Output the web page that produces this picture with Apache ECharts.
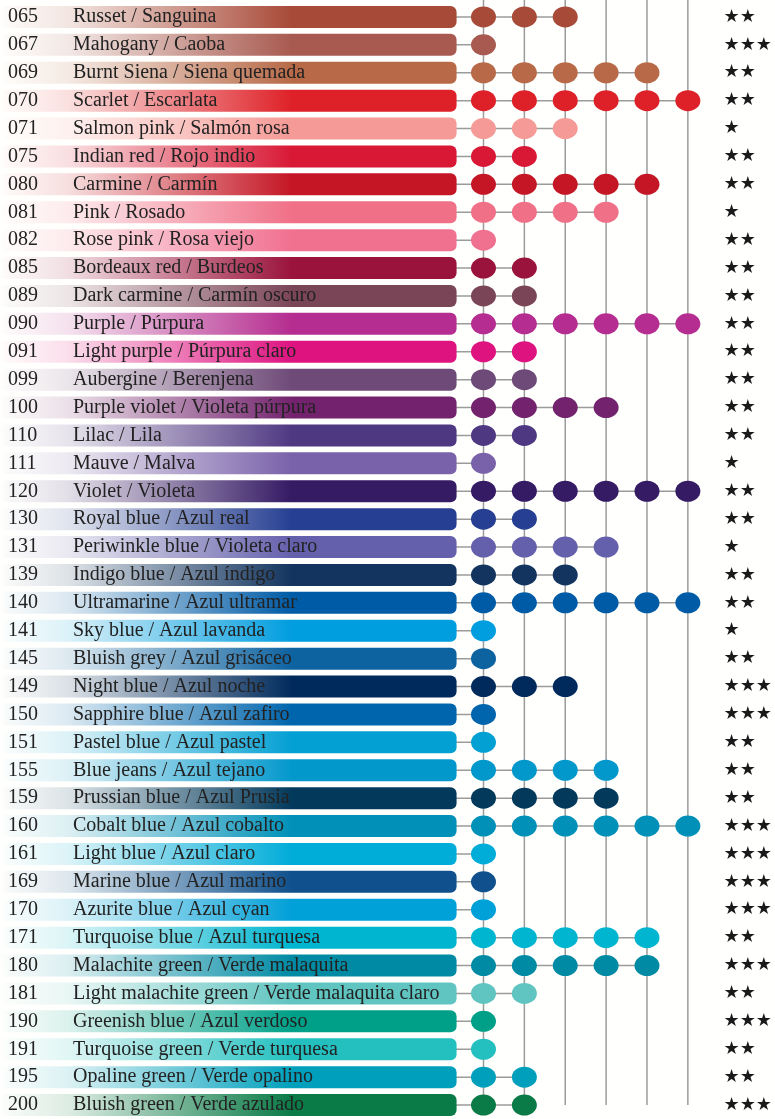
<!DOCTYPE html>
<html>
<head>
<meta charset="utf-8">
<script src="https://cdn.jsdelivr.net/npm/echarts@6/dist/echarts.min.js"></script>
<style>
html,body{margin:0;padding:0;background:#fffffd;}
#chart{width:775px;height:1119px;}
</style>
</head>
<body>
<div id="chart"></div>
<script>
const codes = ['065','067','069','070','071','075','080','081','082','085','089','090','091','099','100','110','111','120','130','131','139','140','141','145','149','150','151','155','159','160','161','169','170','171','180','181','190','191','195','200'];
const names = ['Russet / Sanguina','Mahogany / Caoba','Burnt Siena / Siena quemada','Scarlet / Escarlata','Salmon pink / Salmón rosa','Indian red / Rojo indio','Carmine / Carmín','Pink / Rosado','Rose pink / Rosa viejo','Bordeaux red / Burdeos','Dark carmine / Carmín oscuro','Purple / Púrpura','Light purple / Púrpura claro','Aubergine / Berenjena','Purple violet / Violeta púrpura','Lilac / Lila','Mauve / Malva','Violet / Violeta','Royal blue / Azul real','Periwinkle blue / Violeta claro','Indigo blue / Azul índigo','Ultramarine / Azul ultramar','Sky blue / Azul lavanda','Bluish grey / Azul grisáceo','Night blue / Azul noche','Sapphire blue / Azul zafiro','Pastel blue / Azul pastel','Blue jeans / Azul tejano','Prussian blue / Azul Prusia','Cobalt blue / Azul cobalto','Light blue / Azul claro','Marine blue / Azul marino','Azurite blue / Azul cyan','Turquoise blue / Azul turquesa','Malachite green / Verde malaquita','Light malachite green / Verde malaquita claro','Greenish blue / Azul verdoso','Turquoise green / Verde turquesa','Opaline green / Verde opalino','Bluish green / Verde azulado'];
const colors = ['#a84a38','#a85a50','#b86a48','#de2128','#f59a96','#d81835','#c41624','#f07088','#f07090','#9a133d','#7b4558','#b52d90','#de1380','#6e4a78','#73236d','#4f3882','#7a62aa','#351a64','#263f92','#6560ac','#12345f','#005ba6','#009ddf','#0d62a0','#002a5c','#0065ad','#03a0d3','#0398cc','#033a5c','#0090b8','#00acd8','#10508c','#00a0d8','#00b5cf','#008aa4','#60c4c0','#00a088','#24c0c0','#00a0bc','#0a7a46'];
const dotCounts = [3,1,5,6,3,2,5,4,1,2,2,6,2,2,4,2,1,6,2,4,3,6,1,1,3,1,1,4,4,6,1,1,1,5,5,2,1,1,2,2];
const starCounts = [2,3,2,2,1,2,2,1,2,2,2,2,2,2,2,2,1,2,2,1,2,2,1,2,3,3,2,2,2,3,3,3,3,2,3,2,3,2,2,3];
const columns = [1,2,3,4,5,6];

function rgba(hex, a){
  const n = parseInt(hex.slice(1),16);
  return 'rgba(' + ((n>>16)&255) + ',' + ((n>>8)&255) + ',' + (n&255) + ',' + a + ')';
}

const FONT = 'Liberation Serif';
const BAR_END = 458;
const LINE_COLOR = '#9b9b9b';

const barData = codes.map((c, i) => ({
  value: BAR_END,
  itemStyle: {
    color: new echarts.graphic.LinearGradient(0, 0, 1, 0, [
      {offset: 0, color: rgba(colors[i], 0)},
      {offset: 0.02, color: rgba(colors[i], 0.03)},
      {offset: 0.15, color: rgba(colors[i], 0.14)},
      {offset: 0.64, color: rgba(colors[i], 1)},
      {offset: 1, color: rgba(colors[i], 1)}
    ])
  },
  label: {formatter: names[i]}
}));

const dotData = [];
codes.forEach((c, i) => {
  for (let k = 1; k <= dotCounts[i]; k++) {
    dotData.push({value: [k, i], itemStyle: {color: colors[i], opacity: 1}});
  }
});

const last = codes.length - 1;

const option = {
  backgroundColor: '#fffffd',
  animation: false,
  grid: {left: 0, width: 775, top: 3, height: 1118},
  xAxis: [
    {type: 'value', min: 0, max: 775, show: false},
    {type: 'value', min: -444/41, max: 331/41, show: false}
  ],
  yAxis: [
    {type: 'category', data: codes, inverse: true, position: 'left', z: 10,
     axisLine: {show: false}, axisTick: {show: false}, splitLine: {show: false},
     axisLabel: {inside: true, margin: 8, align: 'left', fontFamily: FONT, fontSize: 20, color: '#222'}},
    {type: 'category', data: codes, inverse: true, position: 'right', z: 10,
     axisLine: {show: false}, axisTick: {show: false}, splitLine: {show: false},
     axisLabel: {inside: true, margin: 49, align: 'left', fontFamily: 'DejaVu Sans', fontSize: 18, color: '#1a1a1a',
       formatter: (v, i) => '★'.repeat(starCounts[i])}}
  ],
  series: [
    {
      type: 'custom', xAxisIndex: 1, yAxisIndex: 0, z: 1, silent: true,
      data: columns.map(k => [k, last]),
      renderItem: (params, api) => {
        const p = api.coord([api.value(0), api.value(1)]);
        return {type: 'line', shape: {x1: p[0], y1: 0, x2: p[0], y2: p[1]},
                style: {stroke: LINE_COLOR, lineWidth: 1.5}};
      }
    },
    {
      type: 'custom', xAxisIndex: 1, yAxisIndex: 0, z: 1, silent: true,
      data: dotCounts.map((n, i) => [n, i]),
      renderItem: (params, api) => {
        const a = api.coord([0, api.value(1)]);
        const b = api.coord([api.value(0), api.value(1)]);
        return {type: 'line', shape: {x1: a[0], y1: a[1], x2: b[0], y2: b[1]},
                style: {stroke: LINE_COLOR, lineWidth: 1.5}};
      }
    },
    {
      type: 'bar', xAxisIndex: 0, yAxisIndex: 0, z: 2, barWidth: 22,
      itemStyle: {borderRadius: 6},
      label: {show: true, position: 'insideLeft', distance: 73, fontFamily: FONT, fontSize: 20, color: '#222'},
      data: barData
    },
    {
      type: 'scatter', xAxisIndex: 1, yAxisIndex: 0, z: 3,
      symbol: 'circle', symbolSize: [25, 21],
      itemStyle: {opacity: 1},
      data: dotData
    }
  ]
};

const chart = echarts.init(document.getElementById('chart'), null, {renderer: 'canvas'});
chart.setOption(option);
</script>
</body>
</html>
